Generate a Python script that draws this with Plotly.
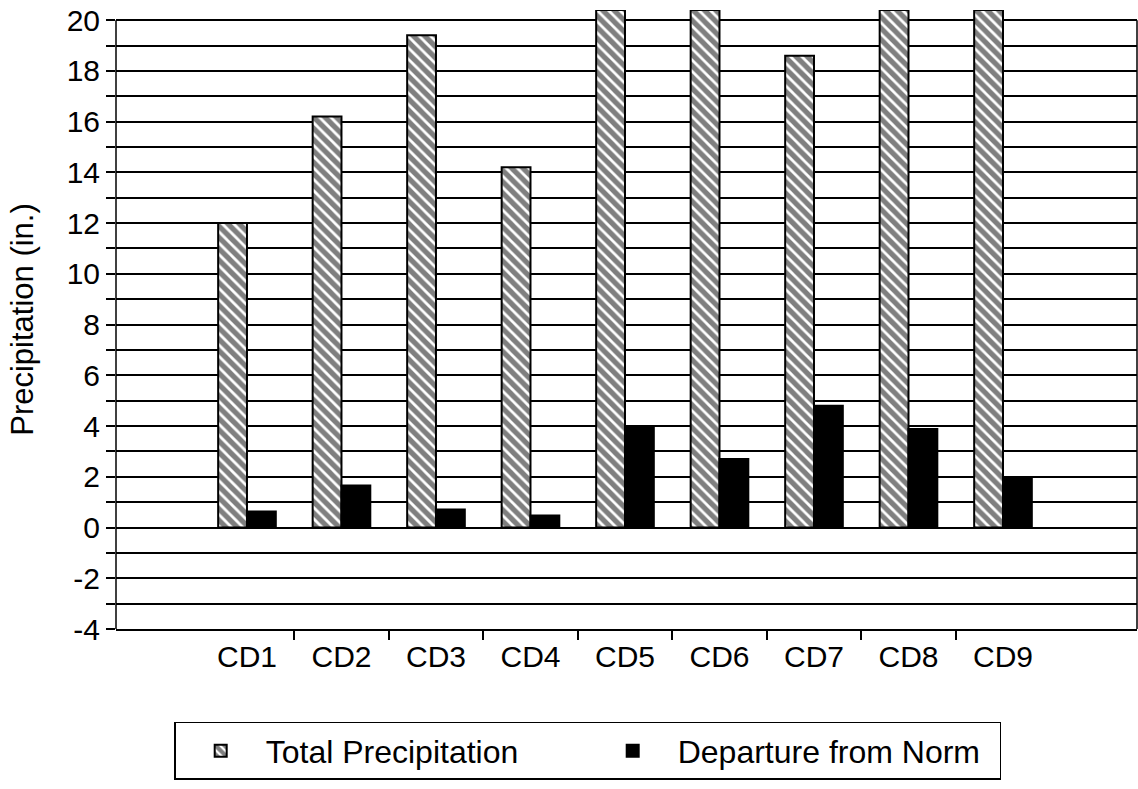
import plotly.graph_objects as go

categories = ["CD1", "CD2", "CD3", "CD4", "CD5", "CD6", "CD7", "CD8", "CD9"]
total_precip = [12.0, 16.2, 19.4, 14.2, 20.4, 20.4, 18.6, 20.4, 20.4]
departure = [0.63, 1.66, 0.71, 0.47, 3.92, 2.70, 4.80, 3.88, 1.98]
y_ticks = [-4, -2, 0, 2, 4, 6, 8, 10, 12, 14, 16, 18, 20]
y_ticktext = ["-4", "-2", "0", "2", "4", "6", "8", "10", "12", "14", "16", "18", "20"]
boundary_ticks = [0.5, 1.5, 2.5, 3.5, 4.5, 5.5, 6.5, 7.5]

FONT = "Liberation Sans, Arial, Helvetica, sans-serif"
XRANGE = [-1.386, 9.418]
YRANGE = [-4, 20.4]

fig = go.Figure()
fig.add_trace(go.Bar(
    x=categories, y=total_precip, name="Total Precipitation",
    marker=dict(color="white", line=dict(color="black", width=2),
                pattern=dict(shape="\\", fgcolor="black", bgcolor="white",
                             size=8, solidity=0.65)),
))
fig.add_trace(go.Bar(
    x=categories, y=departure, name="Departure from Norm",
    marker=dict(color="black", line=dict(color="black", width=2)),
))
# invisible helper trace to activate overlay axis carrying boundary ticks
fig.add_trace(go.Scatter(x=[boundary_ticks[0]], y=[0], xaxis="x2", mode="markers",
                         marker=dict(opacity=0), showlegend=False, hoverinfo="skip"))

# axis lines (left and right) from -4 to 20
for xp in (0, 1):
    fig.add_shape(type="line", xref="paper", yref="y", x0=xp, x1=xp, y0=-4, y1=20,
                  line=dict(color="black", width=1.5))

fig.update_layout(
    width=1138, height=789,
    paper_bgcolor="white", plot_bgcolor="white",
    margin=dict(l=116, r=1, t=10, b=160),
    barmode="group", bargap=0.39, bargroupgap=0.0,
    font=dict(family=FONT, size=30, color="black"),
    xaxis=dict(
        type="category", range=XRANGE, showgrid=False, ticks="",
        showline=True, linecolor="black", linewidth=1.5, mirror=False,
        tickfont=dict(size=30), zeroline=False, automargin=False,
    ),
    xaxis2=dict(
        overlaying="x", range=XRANGE, tickvals=boundary_ticks,
        ticks="outside", ticklen=10, tickwidth=1.5, tickcolor="black",
        showticklabels=False, showgrid=False, zeroline=False, side="bottom",
        showline=False, automargin=False,
    ),
    yaxis=dict(
        range=YRANGE, tickvals=y_ticks, ticktext=y_ticktext,
        showgrid=True, gridcolor="black", gridwidth=1.5,
        ticks="outside", ticklen=9, tickwidth=1.5, tickcolor="black",
        showline=False, zeroline=False, tickfont=dict(size=30),
        automargin=False,
        title=dict(text="Precipitation (in.)", font=dict(size=31), standoff=23),
        minor=dict(dtick=1, showgrid=True, gridcolor="black", gridwidth=1.5,
                   ticks="outside", ticklen=9, tickwidth=1.5, tickcolor="black"),
    ),
    legend=dict(
        orientation="h", x=0.462, xanchor="center", y=-0.150, yanchor="top",
        bordercolor="black", borderwidth=1.5, bgcolor="white",
        font=dict(size=32), entrywidth=317, entrywidthmode="pixels",
        itemwidth=80, itemsizing="constant",
    ),
)

fig.write_html(
    "out.html",
    config={"displayModeBar": False},
    post_script="document.body.style.margin='0';document.body.style.overflow='hidden';",
)
